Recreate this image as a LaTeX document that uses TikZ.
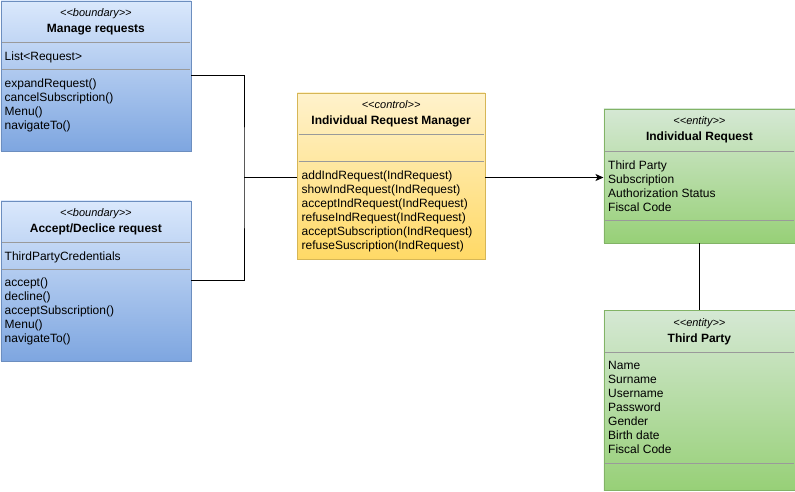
\documentclass[tikz,border=0pt]{standalone}
\usepackage{fontspec}
\setmainfont{Liberation Sans}
\usetikzlibrary{calc,arrows.meta}
\definecolor{btop}{HTML}{DAE8FC}
\definecolor{bbot}{HTML}{7EA6E0}
\definecolor{bstroke}{HTML}{6C8EBF}
\definecolor{ytop}{HTML}{FFF2CC}
\definecolor{ybot}{HTML}{FFD966}
\definecolor{ystroke}{HTML}{D6B656}
\definecolor{gtop}{HTML}{D5E8D4}
\definecolor{gbot}{HTML}{97D077}
\definecolor{gstroke}{HTML}{82B366}
\definecolor{sepcol}{HTML}{9A9A9A}
\tikzset{
  classbox/.style={rectangle, inner sep=0pt, anchor=north west, line width=0.8pt},
  bluebox/.style={classbox, draw=bstroke, top color=btop, bottom color=bbot},
  yellowbox/.style={classbox, draw=ystroke, top color=ytop, bottom color=ybot},
  greenbox/.style={classbox, draw=gstroke, top color=gtop, bottom color=gbot},
  txt/.style={anchor=base west, inner sep=0pt, font=\fontsize{12}{14}\selectfont},
  stereo/.style={anchor=base, inner sep=0pt, font=\itshape\fontsize{11}{14}\selectfont},
  ctitle/.style={anchor=base, inner sep=0pt, font=\bfseries\fontsize{12}{14}\selectfont},
  sepline/.style={draw=sepcol, line width=0.8pt},
  conn/.style={draw=black, line width=0.9pt}
}
\begin{document}
\begin{tikzpicture}[x=1pt,y=-1pt]
\useasboundingbox (0,0) rectangle (795,491);

% ---------- Manage requests ----------
\node[bluebox, minimum width=190, minimum height=150] (mr) at (0.5,0.5) {};
\node[stereo] (mr-s) at ($(mr.north)+(0,16)$) {<{}<boundary>{}>};
\node[ctitle] (mr-t) at ($(mr.north)+(0,32)$) {Manage requests};
\draw[sepline] ($(mr.north west)+(1.5,42)$) -- ($(mr.north east)+(-1.5,42)$);
\node[txt] (mr-a1) at ($(mr.north west)+(4,60)$) {List<Request>};
\draw[sepline] ($(mr.north west)+(1.5,69)$) -- ($(mr.north east)+(-1.5,69)$);
\foreach [count=\i] \t in {expandRequest(), cancelSubscription(), Menu(), navigateTo()}
  \node[txt] (mr-m\i) at ($(mr.north west)+(4,{87+14*(\i-1)})$) {\t};

% ---------- Accept/Declice request ----------
\node[bluebox, minimum width=190, minimum height=160] (ad) at (0.5,200.5) {};
\node[stereo] (ad-s) at ($(ad.north)+(0,16)$) {<{}<boundary>{}>};
\node[ctitle] (ad-t) at ($(ad.north)+(0,32.3)$) {Accept/Declice request};
\draw[sepline] ($(ad.north west)+(1.5,42)$) -- ($(ad.north east)+(-1.5,42)$);
\node[txt] (ad-a1) at ($(ad.north west)+(4,59.5)$) {ThirdPartyCredentials};
\draw[sepline] ($(ad.north west)+(1.5,69)$) -- ($(ad.north east)+(-1.5,69)$);
\foreach [count=\i] \t in {accept(), decline(), acceptSubscription(), Menu(), navigateTo()}
  \node[txt] (ad-m\i) at ($(ad.north west)+(4,{86.3+14*(\i-1)})$) {\t};

% ---------- Individual Request Manager ----------
\node[yellowbox, minimum width=187.5, minimum height=166.5] (ctrl) at (297,92.5) {};
\node[stereo] (ctrl-s) at ($(ctrl.north)+(0,15.7)$) {<{}<control>{}>};
\node[ctitle] (ctrl-t) at ($(ctrl.north)+(0,31.8)$) {Individual Request Manager};
\draw[sepline] ($(ctrl.north west)+(1.5,41.8)$) -- ($(ctrl.north east)+(-1.5,41.8)$);
\draw[sepline] ($(ctrl.north west)+(1.5,68.5)$) -- ($(ctrl.north east)+(-1.5,68.5)$);
\foreach [count=\i] \t in {addIndRequest(IndRequest), showIndRequest(IndRequest), acceptIndRequest(IndRequest), refuseIndRequest(IndRequest), acceptSubscription(IndRequest), refuseSuscription(IndRequest)}
  \node[txt] (ctrl-m\i) at ($(ctrl.north west)+(4.5,{86.8+14*(\i-1)})$) {\t};

% ---------- Individual Request ----------
\node[greenbox, minimum width=191, minimum height=134] (ir) at (603.5,108.5) {};
\node[stereo] (ir-s) at ($(ir.north)+(0,16.3)$) {<{}<entity>{}>};
\node[ctitle] (ir-t) at ($(ir.north)+(0,32.3)$) {Individual Request};
\draw[sepline] ($(ir.north west)+(1.5,42.5)$) -- ($(ir.north east)+(-1.5,42.5)$);
\foreach [count=\i] \t in {Third Party, Subscription, Authorization Status, Fiscal Code}
  \node[txt] (ir-a\i) at ($(ir.north west)+(4.5,{60.8+14*(\i-1)})$) {\t};
\draw[sepline] ($(ir.north west)+(1.5,111.8)$) -- ($(ir.north east)+(-1.5,111.8)$);

% ---------- Third Party ----------
\node[greenbox, minimum width=191, minimum height=180] (tp) at (603.5,310) {};
\node[stereo] (tp-s) at ($(tp.north)+(0,16.3)$) {<{}<entity>{}>};
\node[ctitle] (tp-t) at ($(tp.north)+(0,32)$) {Third Party};
\draw[sepline] ($(tp.north west)+(1.5,42.3)$) -- ($(tp.north east)+(-1.5,42.3)$);
\foreach [count=\i] \t in {Name, Surname, Username, Password, Gender, Birth date, Fiscal Code}
  \node[txt] (tp-a\i) at ($(tp.north west)+(4.5,{59.6+14*(\i-1)})$) {\t};
\draw[sepline] ($(tp.north west)+(1.5,153.3)$) -- ($(tp.north east)+(-1.5,153.3)$);

% ---------- Connectors ----------
\coordinate (j) at (244,177.5);
\draw[conn] (mr.east) -| (j) |- (ad.east);
\draw[conn] (j) -- (ctrl.west |- j);
\draw[conn, -{Stealth[length=8pt, width=7pt, inset=2pt]}] (ctrl.east |- j) -- (ir.west |- j);
\draw[conn] (ir.south) -- (tp.north);
\end{tikzpicture}
\end{document}
